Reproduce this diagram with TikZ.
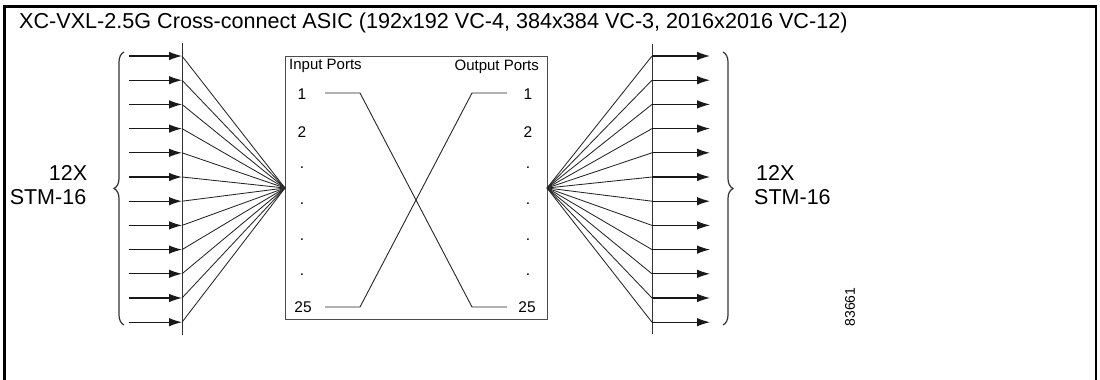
\documentclass[tikz,border=0pt]{standalone}
\usepackage{fontspec}
\setmainfont{Liberation Sans}
\usetikzlibrary{arrows.meta,decorations.pathreplacing}
\tikzset{
  thin line/.style={line width=0.9pt,black!85},
  inarrow/.style={line width=1.1pt,black!90,-{Latex[length=13pt,width=8.5pt]}},
  fanline/.style={line width=0.85pt,black!85},
  bus/.style={line width=1pt,black!80},
  portlbl/.style={font=\fontsize{15.5}{17}\selectfont,inner sep=0pt},
  hdrlbl/.style={font=\fontsize{15}{17}\selectfont,inner sep=0pt},
  biglbl/.style={font=\fontsize{21.5}{23}\selectfont,inner sep=0pt},
  bracestyle/.style={line width=1.2pt,black!80,decorate,decoration={brace,amplitude=10pt}},
  asicbox/.style={draw=black!70,line width=1pt,minimum width=262pt,minimum height=263pt,inner sep=0pt},
}
\begin{document}
\begin{tikzpicture}[x=1pt,y=-1pt]
\useasboundingbox (0,0) rectangle (1100,380);
% frame
\draw[line width=2.4pt] (4.5,380) -- (4.5,6.5) -- (1097,6.5);
\draw[line width=1.3pt] (1096,6.5) -- (1096,380);
% title
\node[anchor=west,inner sep=0pt,font=\fontsize{21.6}{23}\selectfont] (title) at (19,23)
  {XC-VXL-2.5G Cross-connect ASIC (192x192 VC-4, 384x384 VC-3, 2016x2016 VC-12)};
% ASIC box
\node[asicbox] (asic) at (416,187.5) {};
\coordinate (inp) at (285,188);
\coordinate (outp) at (547,188);
% buses
\coordinate (lbtop) at (182,43);
\coordinate (lbbot) at (182,335);
\coordinate (rbtop) at (652,44);
\coordinate (rbbot) at (652,334);
\draw[bus] (lbtop) -- (lbbot);
\draw[bus] (rbtop) -- (rbbot);
% arrows and fans
\foreach \k in {0,...,11}{
  \pgfmathsetmacro{\yy}{56+24.2*\k}
  \coordinate (ls\k) at (129,\yy);
  \coordinate (lt\k) at (182,\yy);
  \coordinate (rs\k) at (652,\yy);
  \coordinate (rt\k) at (710,\yy);
  \draw[inarrow] (ls\k) -- (lt\k);
  \draw[inarrow] (rs\k) -- (rt\k);
  \draw[fanline] (lt\k) -- (inp);
  \draw[fanline] (outp) -- (rs\k);
}
% braces
\coordinate (lbr1) at (124,325);
\coordinate (lbr2) at (124,52);
\coordinate (rbr1) at (723,52);
\coordinate (rbr2) at (723,325);
\draw[bracestyle] (lbr1) -- (lbr2);
\draw[bracestyle] (rbr1) -- (rbr2);
\node[biglbl] (llbl1) at (68,173) {12X};
\node[biglbl] (llbl2) at (48,197) {STM-16};
\node[biglbl,anchor=west] (rlbl1) at (756,173) {12X};
\node[biglbl,anchor=west] (rlbl2) at (754,197) {STM-16};
% port headers
\node[hdrlbl,anchor=west] (inhdr) at (289,66) {Input Ports};
\node[hdrlbl,anchor=east] (outhdr) at (539,67) {Output Ports};
% port numbers
\node[portlbl] (in1) at (302,94) {1};
\node[portlbl] (in2) at (302,132) {2};
\node[portlbl] (ind1) at (302,168) {.};
\node[portlbl] (ind2) at (302,204) {.};
\node[portlbl] (ind3) at (302,240) {.};
\node[portlbl] (ind4) at (302,275) {.};
\node[portlbl] (in25) at (303,307) {25};
\node[portlbl] (out1) at (528,94) {1};
\node[portlbl] (out2) at (528,132) {2};
\node[portlbl] (outd1) at (528,168) {.};
\node[portlbl] (outd2) at (528,204) {.};
\node[portlbl] (outd3) at (528,240) {.};
\node[portlbl] (outd4) at (528,275) {.};
\node[portlbl] (out25) at (527,307) {25};
% cross connections
\coordinate (a1) at (325,93);
\coordinate (a2) at (360,93);
\coordinate (a3) at (472,307);
\coordinate (a4) at (507,307);
\coordinate (b1) at (507,93);
\coordinate (b2) at (472,93);
\coordinate (b3) at (360,307);
\coordinate (b4) at (325,307);
\draw[thin line] (a1) -- (a2) -- (a3) -- (a4);
\draw[thin line] (b1) -- (b2) -- (b3) -- (b4);
% figure number
\node[inner sep=0pt,rotate=90,font=\fontsize{14}{15}\selectfont] (fignum) at (850,307) {83661};
\end{tikzpicture}
\end{document}
